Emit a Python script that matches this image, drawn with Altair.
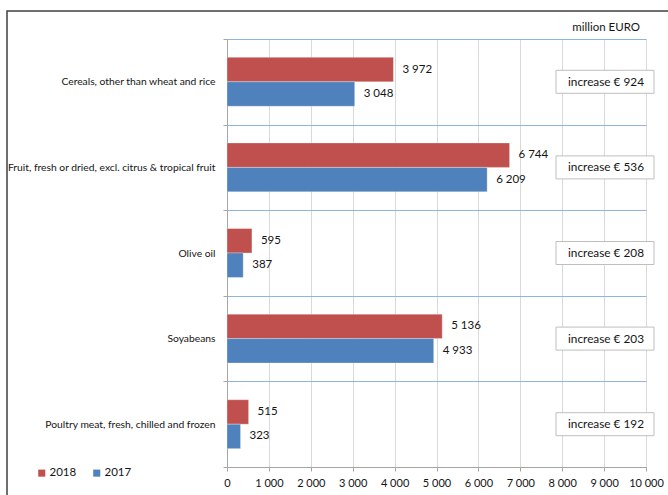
import altair as alt
import pandas as pd

categories = [
    "Cereals, other than wheat and rice",
    "Fruit, fresh or dried, excl. citrus & tropical fruit",
    "Olive oil",
    "Soyabeans",
    "Poultry meat, fresh, chilled and frozen",
]
values_2018 = [3972, 6744, 595, 5136, 515]
values_2017 = [3048, 6209, 387, 4933, 323]
increase_labels = ["increase € 924", "increase € 536", "increase € 208", "increase € 203", "increase € 192"]
years = ["2018", "2017"]
colors = ["#C0504D", "#4F81BD"]
x_ticks = list(range(0, 10001, 1000))

FONT = "Lato"
TXT = "#141414"

rows = []
for c, a, b in zip(categories, values_2018, values_2017):
    rows.append({"cat": c, "year": "2018", "value": a})
    rows.append({"cat": c, "year": "2017", "value": b})
df = pd.DataFrame(rows)
ann = pd.DataFrame({"cat": categories, "label": increase_labels})
one = pd.DataFrame({"a": [0]})

W, H = 419, 428

yscale = alt.Scale(domain=categories, paddingInner=0, paddingOuter=0)
yoff = alt.YOffset("year:N", sort=years, scale=alt.Scale(domain=years, paddingInner=0, paddingOuter=0.75))

bars = alt.Chart(df).mark_bar(stroke="white", strokeWidth=0.5, strokeOpacity=0.6).encode(
    x=alt.X("value:Q", scale=alt.Scale(domain=[0, 10000], nice=False),
            axis=alt.Axis(values=x_ticks, title=None, grid=True, gridColor="#D9D9D9",
                          domainColor="#A6A6A6", tickColor="#A6A6A6", tickSize=4,
                          labelPadding=6, labelFontSize=11, labelColor=TXT, labelFont=FONT,
                          labelOverlap=False, labelFlush=False,
                          labelExpr="replace(format(datum.value, ','), ',', ' ')")),
    y=alt.Y("cat:N", scale=yscale, sort=categories,
            axis=alt.Axis(title=None, grid=True, gridColor="#8EB4E3", gridWidth=1.2,
                          tickBand="extent", domainColor="#A6A6A6", tickColor="#A6A6A6",
                          tickSize=4, labelPadding=8, labelFontSize=10.3, labelColor=TXT,
                          labelFont=FONT, labelLimit=300)),
    yOffset=yoff,
    color=alt.Color("year:N", sort=years, scale=alt.Scale(domain=years, range=colors),
                    legend=alt.Legend(title=None, orient="none", direction="horizontal",
                                      legendX=-191, legendY=428, symbolType="square",
                                      symbolSize=50, labelFontSize=11.5, labelFont=FONT,
                                      labelOffset=2, labelColor=TXT, columnPadding=14,
                                      symbolStrokeWidth=0)),
)

text = alt.Chart(df).transform_calculate(
    lbl="replace(format(datum.value, ','), ',', ' ')"
).mark_text(align="left", dx=9, fontSize=11.5, font=FONT, color=TXT).encode(
    x=alt.X("value:Q"),
    y=alt.Y("cat:N", sort=categories),
    yOffset=yoff,
    text="lbl:N",
)

boxes = alt.Chart(ann).mark_bar(size=23, fill="white", stroke="#BFBFBF", strokeWidth=1).encode(
    x=alt.value(329), x2=alt.value(427),
    y=alt.Y("cat:N", sort=categories),
)
box_text = alt.Chart(ann).mark_text(align="center", fontSize=11.8, font=FONT, color=TXT).encode(
    x=alt.value(379),
    y=alt.Y("cat:N", sort=categories),
    text="label:N",
)

unit = alt.Chart(one).mark_text(align="right", fontSize=11.5, font=FONT, color=TXT).encode(
    x=alt.value(413), y=alt.value(-11), text=alt.value("million EURO"),
)

frame = alt.Chart(one).mark_rect(fill=None, stroke="#404040", strokeWidth=1.5).encode(
    x=alt.value(-220), x2=alt.value(470), y=alt.value(-28), y2=alt.value(480),
)

chart = alt.layer(frame, bars, text, boxes, box_text, unit).properties(
    width=W, height=H,
    autosize=alt.AutoSizeParams(type="none"),
    padding={"left": 227, "top": 39, "right": 22, "bottom": 28},
).configure_view(stroke=None).configure(background="white")

chart.save("out.html", embed_options={"renderer": "svg", "actions": False})
